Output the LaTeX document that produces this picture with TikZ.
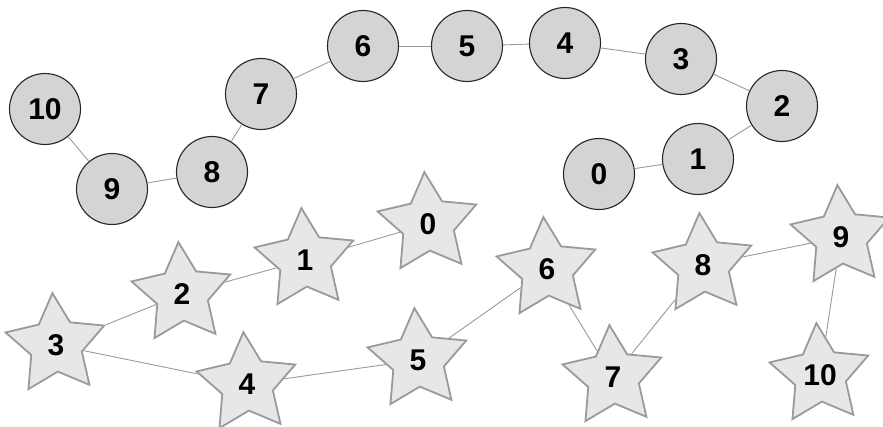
\documentclass[tikz,border=0pt]{standalone}
\usepackage{fontspec}
\setmainfont{Liberation Sans}
\usepackage{xcolor}
\usetikzlibrary{shapes.geometric}
\definecolor{ballfill}{HTML}{D3D4D6}
\definecolor{starfill}{HTML}{E6E7E9}
\definecolor{starline}{HTML}{999A9C}
\definecolor{linkgray}{HTML}{9A9A9A}

\begin{document}
\begin{tikzpicture}[x=1pt, y=-1pt,
  ball/.style={circle, draw=black!85, line width=1.1pt, fill=ballfill,
               minimum size=71pt, inner sep=0pt, font=\fontsize{30}{30}\selectfont\bfseries},
  starbox/.style={star, star points=5, star point ratio=1.95, shape border rotate=4,
                  draw=starline, line width=1.8pt, fill=starfill, minimum size=104pt,
                  inner sep=0pt, font=\fontsize{30}{30}\selectfont\bfseries},
  link/.style={draw=linkgray, line width=0.9pt}
]
  \useasboundingbox (0,0) rectangle (883,427);
  % circle chain
  \node[ball] (c10) at (45,109)  {10};
  \node[ball] (c9)  at (112,189) {9};
  \node[ball] (c8)  at (212,172) {8};
  \node[ball] (c7)  at (261,94)  {7};
  \node[ball] (c6)  at (363,46)  {6};
  \node[ball] (c5)  at (467,46)  {5};
  \node[ball] (c4)  at (565,43)  {4};
  \node[ball] (c3)  at (681,59)  {3};
  \node[ball] (c2)  at (782,106) {2};
  \node[ball] (c1)  at (698,159) {1};
  \node[ball] (c0)  at (599,174) {0};
  % star chain
  \node[starbox] (s0)  at (428,224) {0};
  \node[starbox] (s1)  at (305,260) {1};
  \node[starbox] (s2)  at (182,294) {2};
  \node[starbox] (s3)  at (56,345)  {3};
  \node[starbox] (s4)  at (247,384) {4};
  \node[starbox] (s5)  at (418,360) {5};
  \node[starbox] (s6)  at (547,269) {6};
  \node[starbox] (s7)  at (613,377) {7};
  \node[starbox] (s8)  at (703,265) {8};
  \node[starbox] (s9)  at (841,237) {9};
  \node[starbox] (s10) at (820,375) {10};
  \foreach \a/\b in {10/9, 9/8, 8/7, 7/6, 6/5, 5/4, 4/3, 3/2, 2/1, 1/0}
    \draw[link] (c\a) -- (c\b);
  \foreach \a/\b in {0/1, 1/2, 2/3, 3/4, 4/5, 5/6, 6/7, 7/8, 8/9, 9/10}
    \draw[link] (s\a) -- (s\b);
\end{tikzpicture}
\end{document}
